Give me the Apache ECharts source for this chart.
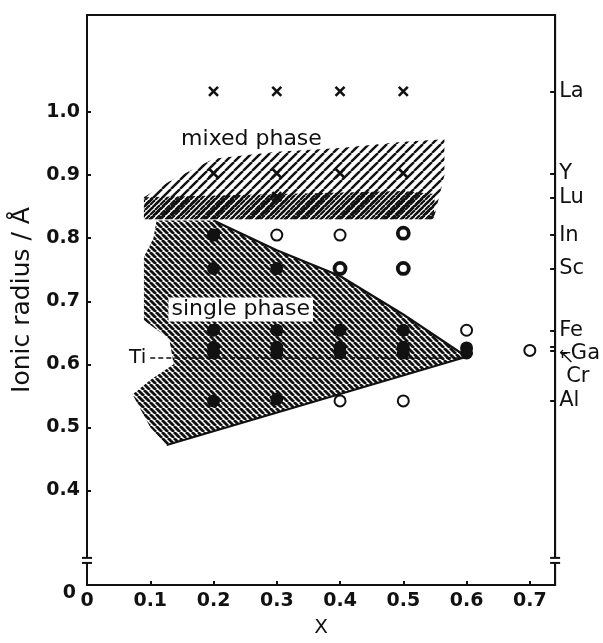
<!DOCTYPE html>
<html>
<head>
<meta charset="utf-8">
<script src="https://cdn.jsdelivr.net/npm/echarts@6/dist/echarts.min.js"></script>
<style>
  html, body { margin: 0; padding: 0; background: #fff; }
  #chart { width: 603px; height: 643px; }
</style>
</head>
<body>
<div id="chart"></div>
<script>
// axis ticks and labels
const xTicks = [0.1, 0.2, 0.3, 0.4, 0.5, 0.6, 0.7]
const xLabels = [0, 0.1, 0.2, 0.3, 0.4, 0.5, 0.6, 0.7]
const yTicks = [0.4, 0.5, 0.6, 0.7, 0.8, 0.9, 1.0]
const yLabels = [0.25, 0.4, 0.5, 0.6, 0.7, 0.8, 0.9, 1.0]   // 0.25 is drawn as "0" (broken axis)
const axisBreak = [0.285, 0.293]

// ions on the right axis
const ionNames = ['La', 'Y', 'Lu', 'In', 'Sc', 'Fe', 'Ga', 'Cr', 'Al']
const ionRadii = [1.033, 0.903, 0.864, 0.805, 0.752, 0.654, 0.628, 0.622, 0.542]
const ionLabelAt = [1.033, 0.903, 0.864, 0.805, 0.752, 0.654, 0.617, 0.592, 0.542]

// samples: [x, ionic radius]
const mixedPts = [
  [0.2, 1.033], [0.3, 1.033], [0.4, 1.033], [0.5, 1.033],
  [0.2, 0.903], [0.3, 0.903], [0.4, 0.903], [0.5, 0.903],
  [0.3, 0.866]
]
const singlePts = [
  [0.2, 0.805], [0.2, 0.752], [0.3, 0.752],
  [0.2, 0.654], [0.2, 0.627], [0.2, 0.618],
  [0.3, 0.654], [0.3, 0.627], [0.3, 0.618],
  [0.4, 0.654], [0.4, 0.627], [0.4, 0.618],
  [0.5, 0.654], [0.5, 0.627], [0.5, 0.618],
  [0.6, 0.626], [0.6, 0.618],
  [0.2, 0.542], [0.3, 0.545]
]
const openPts = [
  [0.3, 0.805], [0.4, 0.805], [0.4, 0.542], [0.5, 0.542],
  [0.6, 0.654], [0.7, 0.622]
]
const ringPts = [[0.5, 0.808], [0.4, 0.752], [0.5, 0.752]]

// phase regions
const mixedRegion = [
  [0.09, 0.83], [0.09, 0.865], [0.13, 0.89], [0.2, 0.926], [0.3, 0.937],
  [0.4, 0.943], [0.5, 0.953], [0.565, 0.957], [0.565, 0.9], [0.548, 0.83]
]
const mixedDense = [
  [0.09, 0.83], [0.09, 0.865], [0.5, 0.875], [0.55, 0.87], [0.548, 0.83]
]
const singleRegion = [
  [0.11, 0.828], [0.2, 0.828], [0.3, 0.781], [0.4, 0.74], [0.5, 0.679], [0.6, 0.612],
  [0.126, 0.472], [0.1, 0.5], [0.072, 0.552], [0.1, 0.575], [0.137, 0.6], [0.13, 0.64],
  [0.09, 0.67], [0.09, 0.77], [0.105, 0.8]
]
const upperBound = [[0.2, 0.828], [0.3, 0.781], [0.4, 0.74], [0.5, 0.679], [0.6, 0.612]]
const lowerBound = [[0.126, 0.472], [0.6, 0.612]]
const tiLine = [[0.1, 0.61], [0.6, 0.61]]

const FONT = 'DejaVu Sans'
const INK = '#111'

function hatch(size, width, dir) {
  const c = document.createElement('canvas')
  c.width = c.height = size
  const g = c.getContext('2d')
  g.strokeStyle = INK
  g.lineWidth = width
  for (const o of [-size, 0, size]) {
    g.beginPath()
    if (dir === '/') { g.moveTo(o, size); g.lineTo(o + size, 0) }
    else { g.moveTo(o, 0); g.lineTo(o + size, size) }
    g.stroke()
  }
  return { image: c, repeat: 'repeat' }
}

function region(points, fill) {
  return {
    type: 'custom', silent: true, clip: false, data: points,
    renderItem: (params, api) => {
      if (params.dataIndex !== 0) return null
      return {
        type: 'polygon',
        shape: { points: points.map(p => api.coord(p)) },
        style: { fill: fill, stroke: null }
      }
    }
  }
}

function near(a, b) { return Math.abs(a - b) < 1e-6 }

const chart = echarts.init(document.getElementById('chart'))

const tickFont = { fontSize: 19, fontWeight: 'bold', color: INK, fontFamily: FONT }

chart.setOption({
  animation: false,
  backgroundColor: '#fff',
  textStyle: { fontFamily: FONT, color: INK },
  grid: { left: 87, right: 46, top: 15, bottom: 54, show: true, borderColor: INK, borderWidth: 2, backgroundColor: 'transparent' },
  xAxis: {
    type: 'value', min: 0, max: 0.74,
    name: 'X', nameLocation: 'middle', nameGap: 33,
    nameTextStyle: { fontSize: 20, color: INK, fontFamily: FONT },
    axisLine: { lineStyle: { color: INK, width: 2 } },
    axisTick: { inside: true, length: 4, customValues: xTicks, lineStyle: { color: INK, width: 2 } },
    axisLabel: Object.assign({
      customValues: xLabels, margin: 7,
      formatter: v => v === 0 ? '0' : v.toFixed(1)
    }, tickFont),
    splitLine: { show: false }
  },
  yAxis: [{
    type: 'value', min: 0.25, max: 1.154,
    name: 'Ionic radius / Å', nameLocation: 'middle', nameGap: 50,
    nameTextStyle: { fontSize: 25, color: INK, fontFamily: FONT },
    axisLine: { lineStyle: { color: INK, width: 2 } },
    axisTick: { inside: true, length: 4, customValues: yTicks, lineStyle: { color: INK, width: 2 } },
    axisLabel: Object.assign({
      customValues: yLabels, margin: 7,
      formatter: v => near(v, 0.25) ? '{z|0}' : v.toFixed(1),
      rich: { z: { fontSize: 19, fontWeight: 'bold', fontFamily: FONT, color: INK, padding: [16, 4, 0, 0] } }
    }, tickFont),
    splitLine: { show: false }
  }, {
    type: 'value', min: 0.25, max: 1.154, position: 'right',
    axisLine: { show: true, lineStyle: { color: INK, width: 2 } },
    axisTick: { show: true, inside: true, length: 5, customValues: ionRadii, lineStyle: { color: INK, width: 2 } },
    axisLabel: {
      customValues: ionLabelAt, margin: 4, fontSize: 21, color: INK, fontFamily: FONT,
      formatter: v => {
        const i = ionLabelAt.findIndex(a => near(a, v))
        if (i < 0) return ''
        const n = ionNames[i]
        if (n === 'Ga') return '{arr|←}{t|Ga}'
        if (n === 'Cr') return '{arr2|↖}\n{cr|Cr}'
        return n
      },
      rich: {
        arr: { fontSize: 14, fontFamily: FONT, color: INK, lineHeight: 14 },
        arr2: { fontSize: 18, fontFamily: FONT, color: INK, lineHeight: 14 },
        t: { fontSize: 21, fontFamily: FONT, color: INK },
        cr: { fontSize: 21, fontFamily: FONT, color: INK, padding: [0, 0, 0, 7], lineHeight: 22 }
      }
    },
    splitLine: { show: false }
  }],
  series: [
    region(mixedRegion, hatch(9, 2.4, '/')),
    region(mixedDense, hatch(5, 2.2, '/')),
    region(singleRegion, hatch(6, 2.8, '\\')),
    {
      type: 'line', data: upperBound, symbol: 'none', silent: true,
      lineStyle: { color: INK, width: 2.2 }
    },
    {
      type: 'line', data: lowerBound, symbol: 'none', silent: true,
      lineStyle: { color: INK, width: 2.2 }
    },
    {
      type: 'line', data: tiLine, symbol: 'none', silent: true,
      lineStyle: { color: INK, width: 1.6, type: [5, 3] }
    },
    {
      type: 'scatter', data: mixedPts, symbol: 'path://M0 0L10 10M10 0L0 10', symbolSize: 9,
      itemStyle: { color: 'none', borderColor: INK, borderWidth: 2.6, opacity: 1 }
    },
    {
      type: 'scatter', data: singlePts, symbol: 'circle', symbolSize: 13,
      itemStyle: { color: INK, opacity: 1 }
    },
    {
      type: 'scatter', data: openPts, symbol: 'circle', symbolSize: 11,
      itemStyle: { color: '#fff', borderColor: INK, borderWidth: 2, opacity: 1 }
    },
    {
      type: 'scatter', data: ringPts, symbol: 'circle', symbolSize: 11,
      itemStyle: { color: '#fff', borderColor: INK, borderWidth: 3.8, opacity: 1 }
    },
    {
      // broken axis marks
      type: 'custom', silent: true, clip: false, z: 5,
      data: [[0, (axisBreak[0] + axisBreak[1]) / 2], [0.74, (axisBreak[0] + axisBreak[1]) / 2]],
      renderItem: (params, api) => {
        const x = api.coord([api.value(0), axisBreak[0]])[0]
        const y0 = api.coord([0, axisBreak[0]])[1]
        const y1 = api.coord([0, axisBreak[1]])[1]
        return {
          type: 'group',
          children: [
            { type: 'rect', shape: { x: x - 3, y: y1, width: 6, height: y0 - y1 }, style: { fill: '#fff' } },
            { type: 'line', shape: { x1: x - 5, y1: y0, x2: x + 5, y2: y0 }, style: { stroke: INK, lineWidth: 2 } },
            { type: 'line', shape: { x1: x - 5, y1: y1, x2: x + 5, y2: y1 }, style: { stroke: INK, lineWidth: 2 } }
          ]
        }
      }
    },
    {
      type: 'scatter', symbolSize: 0, silent: true, z: 6,
      itemStyle: { opacity: 1 },
      data: [
        { value: [0.26, 0.957], name: 'mixed phase' },
        {
          value: [0.243, 0.687], name: 'single phase',
          label: { backgroundColor: '#fff', padding: [0, 3, 2, 3] }
        },
        {
          value: tiLine[0], name: 'Ti',
          label: { position: 'left', distance: 4, fontSize: 20 }
        }
      ],
      label: {
        show: true, position: 'inside', formatter: '{b}',
        fontSize: 22, color: INK, fontFamily: FONT
      },
      labelLayout: { hideOverlap: false }
    }
  ]
})
</script>
</body>
</html>
